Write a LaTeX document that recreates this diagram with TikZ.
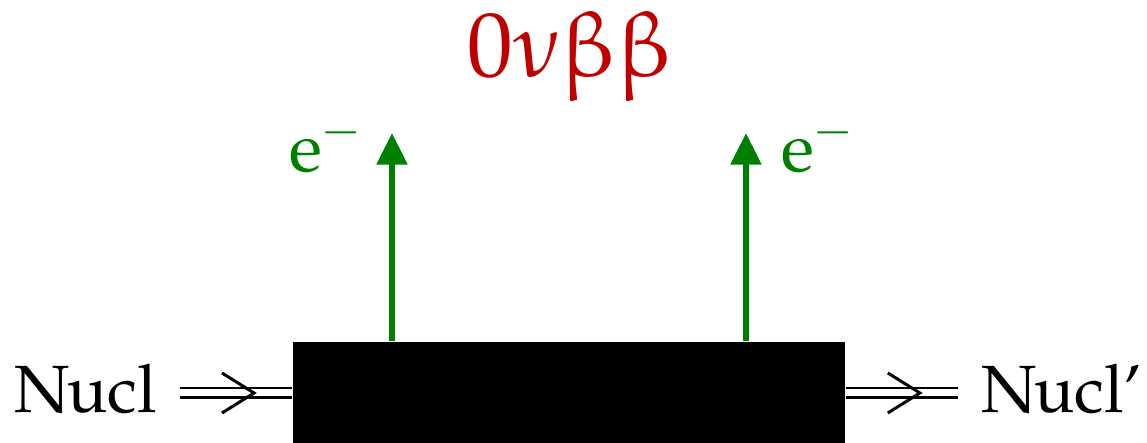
\documentclass[tikz,border=0pt]{standalone}
\usepackage{fontspec}
\setmainfont{TeX Gyre Pagella}
\usepackage{tikz}
\usetikzlibrary{arrows.meta,decorations.markings}
\definecolor{DecayRed}{HTML}{C00000}
\definecolor{DecayGreen}{HTML}{008000}
\tikzset{
  nucbox/.style={fill=black,minimum width=5.52cm,minimum height=1.01cm,inner sep=0pt},
  nuclabel/.style={inner sep=0pt,font=\fontsize{19}{23}\selectfont},
  elabel/.style={anchor=base,inner sep=0pt,text=DecayGreen,font=\fontsize{19.5}{23}\selectfont},
  nucline/.style={draw=black,line width=0.6pt,double=white,double distance=0.07cm,
    postaction={decorate,decoration={markings,mark=at position 0.66 with
      {\draw[line width=0.85pt] (-0.32cm,0.2cm)--(0,0)--(-0.32cm,-0.2cm);}}}},
  electron/.style={-{Triangle[length=9pt,width=8.5pt]},line width=1.6pt,draw=DecayGreen}
}
\begin{document}
\begin{tikzpicture}[x=0.01cm,y=-0.01cm]
  \useasboundingbox (0,0) rectangle (1147,443);
  % nucleus in, black box, nucleus out
  \node[nucbox] (box) at (569,392.5) {};
  \node[nuclabel,anchor=base west] (nucin) at (14,413) {Nucl};
  \node[nuclabel,anchor=base east] (nucout) at (1143,413) {Nucl’};
  \coordinate (inL) at (180,393);
  \coordinate (outR) at (958,393);
  \draw[nucline] (inL) -- (inL -| box.west);
  \draw[nucline] (outR -| box.east) -- (outR);
  % electrons
  \coordinate (tipL) at (392,133);
  \coordinate (tipR) at (746,133);
  \draw[electron] (tipL |- box.north) -- (tipL);
  \draw[electron] (tipR |- box.north) -- (tipR);
  \node[elabel] (eL) at (326,172) {e$^-$};
  \node[elabel] (eR) at (818,172) {e$^-$};
  \node[anchor=base,inner sep=0pt,text=DecayRed,font=\fontsize{26}{30}\selectfont] (title) at (570,77) {0νββ};
\end{tikzpicture}
\end{document}
